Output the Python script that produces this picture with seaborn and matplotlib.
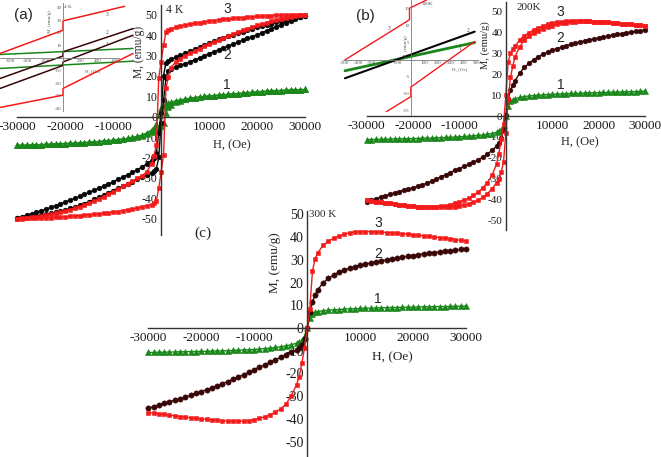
import matplotlib
matplotlib.use("Agg")
import matplotlib.pyplot as plt
import seaborn as sns
from matplotlib.ticker import MultipleLocator

# ---------------- data ----------------
H_GRID = [30000, 29000, 28000, 27000, 26000, 25000, 24000, 23000, 22000, 21000,
          20000, 19000, 18000, 17000, 16000, 15000, 14000, 13000, 12000, 11000,
          10000, 9000, 8000, 7000, 6000, 5000, 4000, 3000, 2000,
          1500, 1000, 500, 0, -500, -1000, -1500,
          -2000, -3000, -4000, -5000, -6000, -7000, -8000, -9000, -10000,
          -11000, -12000, -13000, -14000, -15000, -16000, -17000, -18000, -19000, -20000,
          -21000, -22000, -23000, -24000, -25000, -26000, -27000, -28000, -29000, -30000]

# (a) 4 K
RED_A_DOWN = [50.0, 50.0, 49.9, 49.9, 49.8, 49.7, 49.6, 49.5, 49.4, 49.2, 49.1, 48.9, 48.7, 48.5, 48.3,
              48.1, 47.9, 47.6, 47.4, 47.1, 46.8, 46.5, 46.1, 45.7, 45.3, 44.8, 44.3, 43.7, 43.1,
              42.5, 41.3, 35.0, 27.0, 19.0, -14.0, -19.5,
              -23.0, -27.0, -29.0, -30.3, -31.5, -32.8, -34.2, -35.6, -36.9, -38.1, -39.3, -40.4, -41.4,
              -42.4, -43.3, -44.1, -44.9, -45.6, -46.3, -46.9, -47.4, -47.9, -48.3, -48.7, -49.1, -49.4,
              -49.7, -49.9, -50.0]
RED_A_UP = [50.0, 49.7, 49.4, 49.0, 48.5, 48.0, 47.4, 46.8, 46.1, 45.4, 44.7, 43.9, 43.1, 42.3, 41.4,
            40.5, 39.5, 38.5, 37.4, 36.4, 35.4, 34.4, 33.3, 32.2, 31.0, 29.8, 28.4, 26.7, 24.0,
            19.5, 14.0, -19.0, -27.0, -35.0, -41.3, -42.5,
            -43.1, -43.7, -44.3, -44.8, -45.3, -45.7, -46.1, -46.5, -46.8, -47.1, -47.4, -47.6, -47.9,
            -48.1, -48.3, -48.5, -48.7, -48.9, -49.1, -49.2, -49.4, -49.5, -49.6, -49.7, -49.8, -49.9,
            -49.9, -50.0, -50.0]
BLK_A_DOWN = [49.5, 49.0, 48.5, 48.0, 47.4, 46.8, 46.2, 45.6, 45.0, 44.3, 43.7, 43.0, 42.3, 41.6, 40.9,
              40.2, 39.4, 38.6, 37.8, 36.9, 36.0, 35.0, 34.0, 33.0, 32.0, 31.0, 30.0, 29.0, 28.0,
              27.5, 26.5, 20.0, 2.0, -8.0, -18.0, -20.5,
              -21.5, -23.2, -24.7, -26.0, -27.3, -28.5, -29.7, -30.8, -31.9, -33.0, -34.1, -35.1, -36.1,
              -37.1, -38.1, -39.1, -40.0, -40.9, -41.8, -42.7, -43.6, -44.5, -45.3, -46.1, -46.9, -47.6,
              -48.3, -49.0, -49.6]
BLK_A_UP = [49.5, 48.6, 47.7, 46.8, 45.9, 45.0, 44.1, 43.1, 42.1, 41.1, 40.1, 39.2, 38.3, 37.4, 36.5,
            35.5, 34.6, 33.7, 32.8, 31.8, 30.8, 29.8, 28.8, 27.8, 26.9, 26.0, 25.1, 24.2, 23.3,
            22.6, 19.0, 8.0, -3.0, -20.0, -25.5, -26.5,
            -27.5, -28.6, -29.7, -30.8, -31.9, -33.0, -34.1, -35.1, -36.2, -37.3, -38.4, -39.5, -40.6,
            -41.6, -42.6, -43.5, -44.3, -45.0, -45.7, -46.3, -46.9, -47.4, -47.9, -48.3, -48.7, -49.0,
            -49.3, -49.5, -49.7]
GRN_A_DOWN = [13.3, 13.2, 13.1, 13.0, 12.9, 12.8, 12.7, 12.6, 12.4, 12.3, 12.1, 11.9, 11.7, 11.5, 11.3,
              11.1, 10.9, 10.7, 10.5, 10.3, 10.1, 9.9, 9.6, 9.3, 9.0, 8.6, 8.2, 7.7, 7.0,
              6.6, 6.0, 5.2, 4.0, 1.0, -3.5, -5.5,
              -6.5, -8.0, -9.0, -9.7, -10.2, -10.6, -11.0, -11.3, -11.6, -11.8, -12.0, -12.2, -12.4,
              -12.6, -12.7, -12.9, -13.0, -13.1, -13.2, -13.3, -13.4, -13.5, -13.6, -13.7, -13.8, -13.9,
              -14.0, -14.0, -14.1]
GRN_A_UP = [13.3, 13.2, 13.1, 13.0, 12.9, 12.8, 12.7, 12.6, 12.4, 12.3, 12.1, 11.9, 11.7, 11.5, 11.3,
            11.1, 10.9, 10.7, 10.5, 10.3, 10.1, 9.9, 9.6, 9.3, 8.9, 8.4, 7.8, 7.0, 5.9,
            4.6, 2.0, -3.0, -4.8, -5.8, -6.4, -7.0,
            -7.6, -8.6, -9.3, -9.9, -10.3, -10.7, -11.0, -11.3, -11.6, -11.8, -12.0, -12.2, -12.4,
            -12.6, -12.7, -12.9, -13.0, -13.1, -13.2, -13.3, -13.4, -13.5, -13.6, -13.7, -13.8, -13.9,
            -14.0, -14.0, -14.1]

# (b) 200 K
RED_B_DOWN = [43.3, 43.5, 43.7, 43.9, 44.1, 44.3, 44.5, 44.7, 44.9, 45.0, 45.2, 45.3, 45.4, 45.5, 45.6,
              45.6, 45.5, 45.4, 45.2, 44.9, 44.5, 43.9, 43.2, 42.3, 41.3, 40.0, 38.5, 36.5, 33.5,
              32.0, 30.0, 26.0, 10.0, -4.0, -11.0, -18.0,
              -23.0, -28.5, -32.0, -34.5, -36.5, -38.0, -39.3, -40.3, -41.2, -41.9, -42.5, -43.0, -43.3,
              -43.5, -43.6, -43.6, -43.5, -43.4, -43.2, -43.0, -42.8, -42.5, -42.2, -41.9, -41.6, -41.3,
              -41.0, -40.7, -40.4]
RED_B_UP = [43.3, 43.5, 43.7, 43.9, 44.1, 44.3, 44.5, 44.7, 44.9, 45.0, 45.2, 45.3, 45.4, 45.4, 45.4,
            45.3, 45.1, 44.8, 44.4, 43.9, 43.3, 42.6, 41.8, 40.8, 39.6, 38.2, 36.3, 33.3, 28.5,
            24.0, 18.5, 8.0, -8.0, -22.0, -27.0, -30.0,
            -32.0, -35.0, -37.3, -39.0, -40.3, -41.3, -42.1, -42.7, -43.1, -43.4, -43.6, -43.7, -43.7,
            -43.7, -43.7, -43.6, -43.5, -43.4, -43.2, -43.0, -42.8, -42.5, -42.2, -41.9, -41.6, -41.3,
            -41.0, -40.7, -40.4]
BLK_B = [41.2, 40.9, 40.6, 40.3, 39.9, 39.5, 39.1, 38.7, 38.3, 37.9, 37.4, 37.0, 36.5, 36.0, 35.5,
         35.0, 34.4, 33.7, 33.0, 32.3, 31.5, 30.6, 29.6, 28.4, 27.0, 25.3, 23.3, 20.6, 17.0,
         14.8, 12.3, 8.0, 0.5, -6.5, -10.5, -13.0,
         -14.5, -16.5, -18.3, -19.8, -21.0, -22.2, -23.2, -24.2, -25.2, -26.1, -27.1, -28.1, -29.2,
         -30.2, -31.2, -32.1, -33.0, -33.7, -34.4, -35.0, -35.6, -36.2, -36.8, -37.5, -38.2, -38.9,
         -39.6, -40.3, -41.0]
GRN_B = [12.0, 11.8, 11.7, 11.6, 11.6, 11.5, 11.5, 11.4, 11.3, 11.3, 11.2, 11.1, 11.1, 11.0, 10.9,
         10.8, 10.8, 10.7, 10.6, 10.5, 10.4, 10.3, 10.1, 10.0, 9.8, 9.6, 9.3, 8.9, 8.2,
         7.8, 7.0, 5.0, 0.0, -4.5, -6.5, -7.3,
         -7.8, -8.4, -8.8, -9.1, -9.3, -9.5, -9.7, -9.8, -10.0, -10.1, -10.2, -10.3, -10.4,
         -10.5, -10.6, -10.6, -10.7, -10.8, -10.8, -10.9, -10.9, -11.0, -11.0, -11.1, -11.1, -11.2,
         -11.2, -11.3, -11.3]

# (c) 300 K
RED_C = [38.3, 38.6, 38.9, 39.2, 39.5, 39.8, 40.0, 40.3, 40.6, 40.8, 41.0, 41.3, 41.5, 41.7, 41.9,
         42.0, 42.2, 42.3, 42.4, 42.4, 42.4, 42.3, 41.9, 41.3, 40.5, 39.5, 38.2, 36.4, 33.0,
         30.5, 25.0, 8.5, 0.0, -9.0, -15.5, -21.5,
         -25.0, -29.8, -33.6, -35.6, -37.1, -38.2, -39.1, -39.8, -40.4, -40.8, -41.0, -41.1, -41.1,
         -41.0, -40.9, -40.7, -40.5, -40.3, -40.0, -39.8, -39.5, -39.3, -39.0, -38.7, -38.4, -38.1,
         -37.8, -37.5, -37.3]
BLK_C = [34.8, 34.6, 34.3, 34.1, 33.8, 33.5, 33.2, 32.9, 32.6, 32.3, 31.9, 31.6, 31.2, 30.8, 30.4,
         30.0, 29.6, 29.1, 28.6, 28.1, 27.6, 27.0, 26.3, 25.5, 24.5, 23.3, 21.8, 19.8, 16.8,
         14.5, 11.5, 7.0, 0.0, -5.0, -7.5, -9.0,
         -9.8, -10.8, -11.8, -12.9, -14.0, -15.1, -16.2, -17.3, -18.4, -19.5, -20.6, -21.6, -22.6,
         -23.6, -24.5, -25.4, -26.3, -27.2, -28.0, -28.8, -29.6, -30.4, -31.1, -31.8, -32.5, -33.2,
         -33.9, -34.6, -35.3]
GRN_C = [9.6, 9.6, 9.5, 9.5, 9.4, 9.4, 9.4, 9.3, 9.3, 9.2, 9.2, 9.1, 9.1, 9.0, 9.0,
         8.9, 8.9, 8.8, 8.7, 8.7, 8.6, 8.5, 8.4, 8.3, 8.1, 8.0, 7.8, 7.6, 7.2,
         6.9, 6.3, 4.5, 0.0, -3.5, -5.3, -6.2,
         -6.7, -7.4, -7.9, -8.3, -8.6, -8.9, -9.1, -9.3, -9.5, -9.6, -9.7, -9.8, -9.9,
         -10.0, -10.1, -10.1, -10.2, -10.3, -10.3, -10.4, -10.4, -10.5, -10.5, -10.6, -10.6, -10.7,
         -10.7, -10.8, -10.8]

# inset (a): low-field region at 4 K
INA_RED1_H = [-716, 0, 0, 700]
INA_RED1_M = [3.5, 22.0, 29.4, 41.0]
INA_RED2_H = [-716, 0, 0, 795]
INA_RED2_M = [-39.4, -29.6, -24.3, 3.5]
INA_BLK1_H = [-716, 0, 0, 795]
INA_BLK1_M = [-16.4, 1.5, 4.8, 23.3]
INA_BLK2_H = [-716, 0, 0, 795]
INA_BLK2_M = [-24.3, -6.0, -3.2, 18.0]
INA_GRN1_H = [-716, 795]
INA_GRN1_M = [2.7, 7.5]
INA_GRN2_H = [-716, 795]
INA_GRN2_M = [-8.4, -2.6]

# inset (b): low-field region at 200 K
INB_RED1_H = [-500, -10, -10, 120]
INB_RED1_M = [0.0, 11.8, 15.2, 17.6]
INB_RED2_H = [-185, 0, 0, 485]
INB_RED2_M = [-15.2, -10.8, -8.0, 5.4]
INB_BLK_H = [-500, 485]
INB_BLK_M = [-5.4, 8.3]
INB_GRN_H = [-500, 485]
INB_GRN_M = [-3.2, 5.1]

X_TICKS = [-30000, -20000, -10000, 10000, 20000, 30000]
Y_TICKS = [-50, -40, -30, -20, -10, 0, 10, 20, 30, 40, 50]
INA_XT = [-600, -400, -200, 200, 400, 600]
INA_YT = [-40, -30, -20, -10, 10, 20, 30, 40]
INB_XT = [-500, -400, -300, -200, -100, 100, 200, 300, 400, 500]
INB_YT = [-15, -10, -5, 5, 10, 15]

for arr in (RED_A_DOWN, RED_A_UP, BLK_A_DOWN, BLK_A_UP, GRN_A_DOWN, GRN_A_UP,
            RED_B_DOWN, RED_B_UP, BLK_B, GRN_B, RED_C, BLK_C, GRN_C):
    assert len(arr) == len(H_GRID), len(arr)

# ---------------- style ----------------
sns.set_theme(style="white")
plt.rcParams["font.family"] = ["Liberation Serif", "DejaVu Serif"]

RED = "#f41a1a"
BLACK = "#050505"
MAROON = "#380606"
GREEN = "#1a871a"
AXC = "#333333"

W, H = 661, 457
fig = plt.figure(figsize=(W / 100, H / 100), dpi=100)


def px_axes(x0, y0, x1, y1):
    return fig.add_axes([x0 / W, 1 - y1 / H, (x1 - x0) / W, (y1 - y0) / H])


def ftext(x, y, s, **kw):
    kw.setdefault("ha", "center")
    kw.setdefault("va", "center")
    fig.text(x / W, 1 - y / H, s, **kw)


def curve(ax, h, m, color, marker, ms, lw=1.0, z=2):
    sns.lineplot(x=h, y=m, ax=ax, sort=False, estimator=None, color=color,
                 marker=marker, markersize=ms, markeredgecolor=color,
                 markeredgewidth=0.4, linewidth=lw, clip_on=False,
                 legend=False, zorder=z)


def seg(ax, h, m, color, lw):
    sns.lineplot(x=h, y=m, ax=ax, sort=False, estimator=None, color=color,
                 linewidth=lw, legend=False, clip_on=False)


def style_main(ax, ylim, xfs, yfs):
    ax.set_xlim(-30000, 30000)
    ax.set_ylim(*ylim)
    ax.set_facecolor("none")
    ax.set_axisbelow(True)
    ax.grid(False)
    for s in ("top", "right"):
        ax.spines[s].set_visible(False)
    for s in ("left", "bottom"):
        ax.spines[s].set_position(("data", 0))
        ax.spines[s].set_color(AXC)
        ax.spines[s].set_linewidth(1.0)
        ax.spines[s].set_zorder(2.5)
    ax.set_xticks(X_TICKS)
    ax.set_xticklabels([str(v) for v in X_TICKS])
    ax.set_yticks(Y_TICKS)
    ax.set_yticklabels([str(v) for v in Y_TICKS])
    ax.xaxis.set_minor_locator(MultipleLocator(5000))
    ax.yaxis.set_minor_locator(MultipleLocator(5))
    ax.tick_params(which="both", direction="in", color=AXC, width=0.9,
                   labelcolor="#1a1a1a")
    ax.tick_params(which="major", length=4)
    ax.tick_params(which="minor", length=2.2)
    ax.tick_params(axis="x", labelsize=xfs, pad=3)
    ax.tick_params(axis="y", labelsize=yfs, pad=2.5)
    ax.set_xlabel("")
    ax.set_ylabel("")


def style_inset(ax, xlim, ylim, xt, yt, xb, yb):
    ax.set_xlim(*xlim)
    ax.set_ylim(*ylim)
    ax.set_facecolor("none")
    ax.set_axisbelow(True)
    ax.grid(False)
    for s in ("top", "right"):
        ax.spines[s].set_visible(False)
    for s in ("left", "bottom"):
        ax.spines[s].set_position(("data", 0))
        ax.spines[s].set_color("#7a7a7a")
        ax.spines[s].set_linewidth(0.6)
    ax.spines["bottom"].set_bounds(*xb)
    ax.spines["left"].set_bounds(*yb)
    ax.set_xticks(xt)
    ax.set_xticklabels([str(v) for v in xt])
    ax.set_yticks(yt)
    ax.set_yticklabels([str(v) for v in yt])
    ax.tick_params(which="both", direction="in", length=1.5, width=0.4,
                   color="#7a7a7a", labelsize=3.6, pad=0.8, labelcolor="#555555")
    ax.set_xlabel("")
    ax.set_ylabel("")


# ---------------- panel (a) ----------------
axA = px_axes(17.3, 5.0, 305.0, 235.0)
curve(axA, H_GRID, GRN_A_DOWN, GREEN, "^", 3.8)
curve(axA, H_GRID, GRN_A_UP, GREEN, "^", 3.8)
curve(axA, H_GRID, BLK_A_DOWN, BLACK, "o", 3.4)
curve(axA, H_GRID, BLK_A_UP, BLACK, "o", 3.4)
curve(axA, H_GRID, RED_A_DOWN, RED, "s", 3.0)
curve(axA, H_GRID, RED_A_UP, RED, "s", 3.0)
style_main(axA, (-58.0, 54.7), 9.6, 8.5)

# ---------------- panel (b) ----------------
axB = px_axes(366.7, 1.7, 645.0, 230.3)
curve(axB, H_GRID, GRN_B, GREEN, "^", 3.8)
curve(axB, H_GRID, BLK_B, MAROON, "o", 3.4)
curve(axB, H_GRID, RED_B_DOWN, RED, "s", 3.0)
curve(axB, H_GRID, RED_B_UP, RED, "s", 3.0)
style_main(axB, (-54.8, 54.8), 9.6, 8)

# ---------------- panel (c) ----------------
axC = px_axes(148.3, 211.0, 466.0, 457.4)
curve(axC, H_GRID, GRN_C, GREEN, "^", 4.0)
curve(axC, H_GRID, BLK_C, MAROON, "o", 3.8)
curve(axC, H_GRID, RED_C, RED, "s", 3.5)
style_main(axC, (-57.0, 51.5), 9.5, 10)

# ---------------- inset (a) ----------------
inA = px_axes(0, 2, 133, 112)
seg(inA, INA_GRN1_H, INA_GRN1_M, GREEN, 1.1)
seg(inA, INA_GRN2_H, INA_GRN2_M, GREEN, 1.1)
seg(inA, INA_BLK1_H, INA_BLK1_M, MAROON, 1.1)
seg(inA, INA_BLK2_H, INA_BLK2_M, MAROON, 1.1)
seg(inA, INA_RED1_H, INA_RED1_M, RED, 1.1)
seg(inA, INA_RED2_H, INA_RED2_M, RED, 1.1)
style_inset(inA, (-716, 795), (-43.0, 44.4), INA_XT, INA_YT, (-716, 640), (-42, 44))

# ---------------- inset (b) ----------------
inB = px_axes(343, 0, 478, 115)
seg(inB, INB_GRN_H, INB_GRN_M, GREEN, 2.0)
seg(inB, INB_BLK_H, INB_BLK_M, BLACK, 1.5)
seg(inB, INB_RED1_H, INB_RED1_M, RED, 1.0)
seg(inB, INB_RED2_H, INB_RED2_M, RED, 1.0)
style_inset(inB, (-515, 510), (-16.2, 17.6), INB_XT, INB_YT, (-515, 510), (-16.2, 17.6))

# ---------------- texts ----------------
SANS = ["Liberation Sans", "DejaVu Sans"]
# axis titles
ftext(139, 52, "M, (emu/g)", rotation=90, fontsize=8.3)
ftext(232, 145, "H, (Oe)", fontsize=9)
ftext(485, 45, "M, (emu/g)", rotation=90, fontsize=7.6)
ftext(580, 142, "H, (Oe)", fontsize=9)
ftext(275, 263, "M, (emu/g)", rotation=90, fontsize=9.5)
ftext(392, 357, "H, (Oe)", fontsize=9.5)
# temperatures
ftext(175, 10, "4 K", fontsize=8.5)
ftext(529, 7, "200K", fontsize=8)
ftext(323, 214, "300 K", fontsize=8)
# panel letters
ftext(23, 15, "(a)", fontsize=11, family=SANS)
ftext(365, 16, "(b)", fontsize=11, family=SANS)
ftext(203, 233, "(c)", fontsize=11)
# curve numbers
for (x, y, s) in [(227, 9, "3"), (227, 55, "2"), (227, 85, "1"),
                  (560, 12, "3"), (560, 38, "2"), (561, 85, "1"),
                  (378, 223, "3"), (378, 254, "2"), (378, 299, "1")]:
    ftext(x, y, s, fontsize=10, family=SANS)
# inset texts
ftext(68, 7, "4 K", fontsize=3.8, color="#555555")
ftext(107, 15, "3", fontsize=4, color="#444444")
ftext(107, 32, "2", fontsize=4, color="#444444")
ftext(107, 45, "1", fontsize=4, color="#444444")
ftext(50, 22, "M, (emu/g)", rotation=90, fontsize=3.6, color="#555555")
ftext(93, 72, "H, (Oe)", fontsize=3.6, color="#555555")
ftext(428, 4, "200K", fontsize=3.8, color="#555555")
ftext(389, 29, "3", fontsize=4, color="#444444")
ftext(468, 31, "2", fontsize=4, color="#444444")
ftext(460, 49, "1", fontsize=4, color="#444444")
ftext(406, 47, "M, (emu/g)", rotation=90, fontsize=3.6, color="#555555")
ftext(460, 70, "H, (Oe)", fontsize=3.6, color="#555555")

fig.savefig("out.png", dpi=100)
